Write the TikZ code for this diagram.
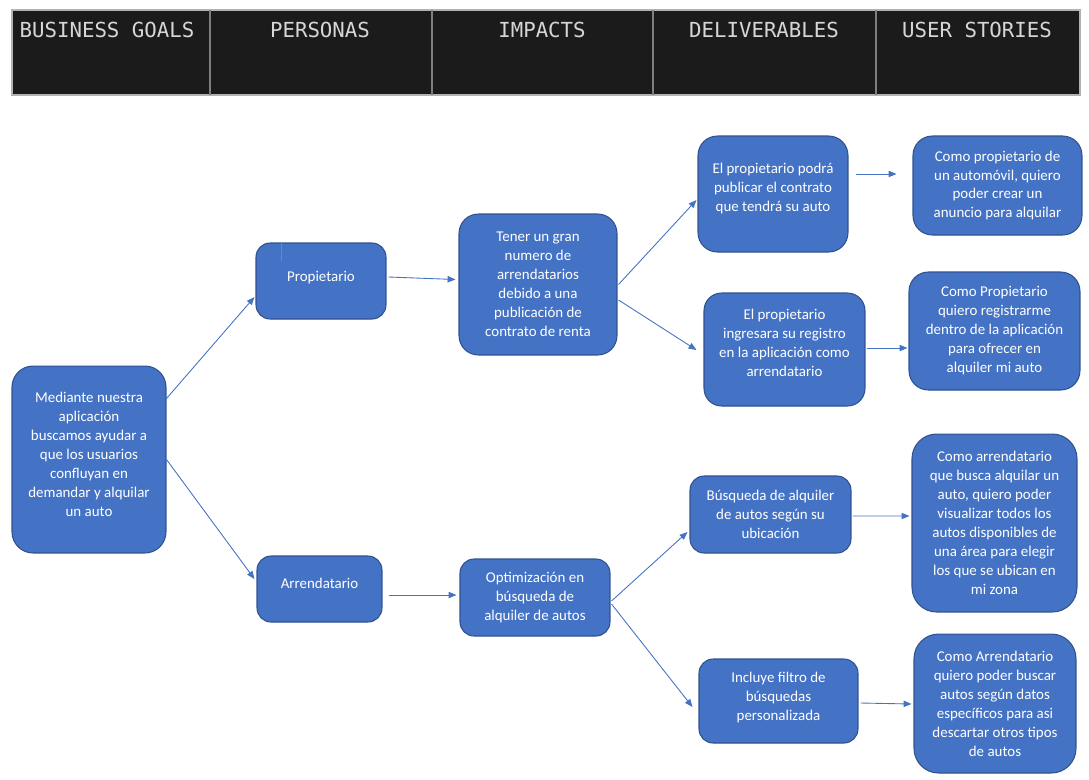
\documentclass[tikz,border=0pt]{standalone}
\usepackage{fontspec}
\setmainfont{Carlito}
\newfontfamily\hdrfont{DejaVu Sans Mono}
\usepackage{tikz}
\usetikzlibrary{arrows.meta,calc}

\definecolor{boxblue}{HTML}{4472C4}
\definecolor{boxline}{HTML}{2F528F}
\definecolor{hdrbg}{HTML}{1B1B1B}
\definecolor{hdrtext}{HTML}{D6D6D6}
\definecolor{hdrsep}{HTML}{7F7F7F}
\definecolor{cursorline}{HTML}{C07A1C}

\tikzset{
  box/.style={draw=boxline, fill=boxblue, line width=0.6pt, rounded corners=8pt,
    text=white, align=center, inner sep=0pt,
    font=\fontsize{8.5pt}{10.8pt}\selectfont},
  hdr/.style={text=hdrtext, font=\hdrfont\fontsize{11.8pt}{13pt}\selectfont, inner sep=0pt},
  arr/.style={draw=boxblue, line width=0.5pt, -{Triangle[length=4.5pt,width=3.6pt]}}
}

\begin{document}
\begin{tikzpicture}[x=0.02cm,y=-0.02cm]
  \useasboundingbox (0,0) rectangle (1089,779);
  % header bar
  \draw[fill=hdrbg, draw=hdrsep!60, line width=0.6pt] (12,10) rectangle (1080,95);
  \foreach \x in {210,432,653,876}
    \draw[hdrsep, line width=1.1pt] (\x,10) -- (\x,95);
  \node[hdr] (hgoals) at (107,29.5) {BUSINESS GOALS};
  \node[hdr] (hpers) at (320,29.5) {PERSONAS};
  \node[hdr] (himp) at (542,29.5) {IMPACTS};
  \node[hdr] (hdel) at (764,29.5) {DELIVERABLES};
  \node[hdr] (hstor) at (977,29.5) {USER STORIES};

  % goal and personas
  \node[box, rounded corners=12pt, text depth=5.7pt, minimum width=3.08cm, minimum height=3.74cm] (goal) at (89,459.5)
    {Mediante nuestra\\aplicación\\buscamos ayudar a\\que los usuarios\\confluyan en\\demandar y alquilar\\un auto};
  \node[box, text depth=5.1pt, minimum width=2.60cm, minimum height=1.52cm] (prop) at (321,281) {Propietario};
  \node[box, text depth=6.8pt, minimum width=2.50cm, minimum height=1.32cm] (arren) at (319.5,589) {Arrendatario};
  \draw[cursorline, line width=0.8pt] ($(prop.north west)+(26,1)$) -- ++(0,18);

  % impacts
  \node[box, rounded corners=11pt, minimum width=3.16cm, minimum height=2.82cm] (imp1) at (538,284.5)
    {Tener un gran\\numero de\\arrendatarios\\debido a una\\publicación de\\contrato de renta};
  \node[box, minimum width=3.00cm, minimum height=1.54cm] (imp2) at (535,597.5)
    {Optimización en\\búsqueda de\\alquiler de autos};

  % deliverables
  \node[box, rounded corners=11pt, text depth=7.4pt, minimum width=3.00cm, minimum height=2.32cm] (del1) at (773,194)
    {El propietario podrá\\publicar el contrato\\que tendrá su auto};
  \node[box, rounded corners=10pt, text depth=8pt, minimum width=3.22cm, minimum height=2.26cm] (del2) at (784.5,349.5)
    {El propietario\\ingresara su registro\\en la aplicación como\\arrendatario};
  \node[box, minimum width=3.22cm, minimum height=1.54cm] (del3) at (770.5,514.5)
    {Búsqueda de alquiler\\de autos según su\\ubicación};
  \node[box, text depth=5.1pt, minimum width=3.18cm, minimum height=1.68cm] (del4) at (778.5,701)
    {Incluye filtro de\\búsquedas\\personalizada};

  % user stories
  \node[box, rounded corners=11pt, minimum width=3.38cm, minimum height=1.98cm] (st1) at (997.5,185.5)
    {Como propietario de\\un automóvil, quiero\\poder crear un\\anuncio para alquilar};
  \node[box, rounded corners=11pt, minimum width=3.42cm, minimum height=2.36cm] (st2) at (994.5,331)
    {Como Propietario\\quiero registrarme\\dentro de la aplicación\\para ofrecer en\\alquiler mi auto};
  \node[box, rounded corners=14pt, minimum width=3.30cm, minimum height=3.56cm] (st3) at (994.5,523)
    {Como arrendatario\\que busca alquilar un\\auto, quiero poder\\visualizar todos los\\autos disponibles de\\una área para elegir\\los que se ubican en\\mi zona};
  \node[box, rounded corners=14pt, minimum width=3.24cm, minimum height=2.78cm] (st4) at (995,703.5)
    {Como Arrendatario\\quiero poder buscar\\autos según datos\\específicos para asi\\descartar otros tipos\\de autos};

  % connectors
  \draw[arr] ($(goal.east)+(0,-61)$) -- ($(prop.west)+(-1,16)$);
  \draw[arr] (goal.east) -- ($(arren.west)+(-2,-10)$);
  \draw[arr] ($(prop.east)+(2,-4)$) -- ($(imp1.west)+(-3,-5)$);
  \draw[arr] ($(arren.east)+(6,6)$) -- ($(imp2.west)+(-3,-2.5)$);
  \draw[arr] ($(imp1.east)+(1,0)$) -- ($(del1.west)+(-1,6)$);
  \draw[arr] ($(imp1.east)+(1,15.5)$) -- ($(del2.west)+(-7,0.5)$);
  \draw[arr] ($(imp2.east)+(1,3.5)$) -- ($(del3.west)+(-2,17.5)$);
  \draw[arr] ($(imp2.east)+(1,6.5)$) -- ($(del4.west)+(-6,6)$);
  \draw[arr] ($(del1.east)+(7,-20)$) -- ($(st1.west)+(-16,-11.5)$);
  \draw[arr] ($(del2.east)+(1,-1.5)$) -- ($(st2.west)+(-1,17)$);
  \draw[arr] ($(del3.east)+(1,1.5)$) -- ($(st3.west)+(-2,-7)$);
  \draw[arr] ($(del4.east)+(2,2)$) -- ($(st4.west)+(-2,0.5)$);
\end{tikzpicture}
\end{document}
